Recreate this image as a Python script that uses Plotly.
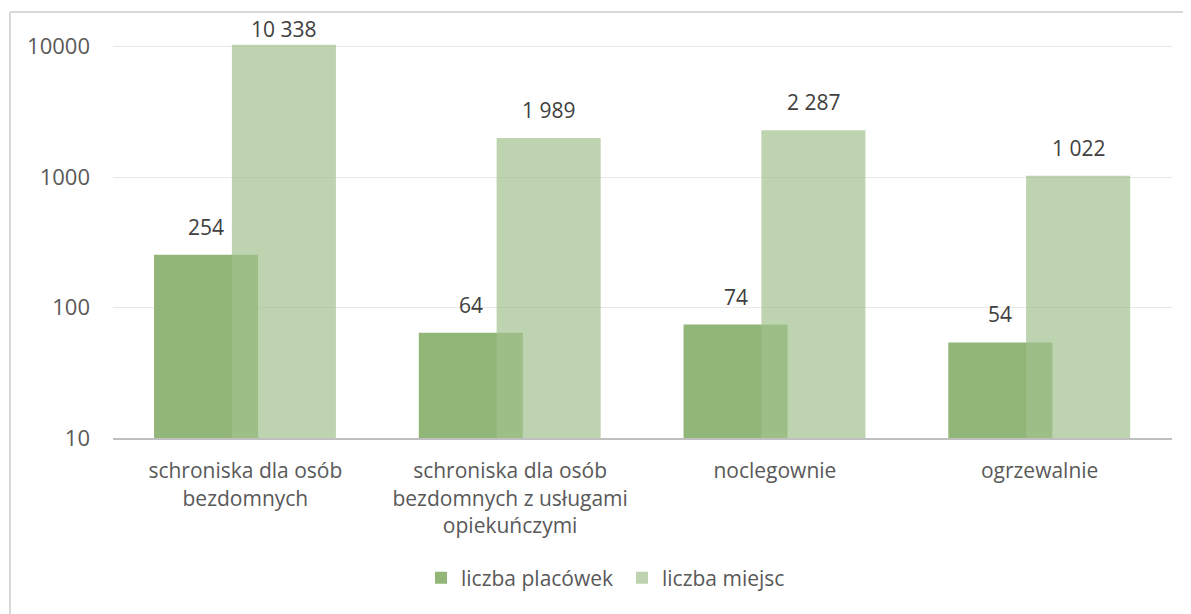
import plotly.graph_objects as go
import math

categories = [
    "schroniska dla osób<br>bezdomnych",
    "schroniska dla osób<br>bezdomnych z usługami<br>opiekuńczymi",
    "noclegownie",
    "ogrzewalnie",
]
placowki = [254, 64, 74, 54]
miejsca = [10338, 1989, 2287, 1022]
series_names = ["liczba placówek", "liczba miejsc"]
y_ticks = [10, 100, 1000, 10000]

def fmt(v):
    return f"{v:,}".replace(",", " ")

xs = list(range(len(categories)))
BW = 0.393
OFF_D = -0.345
OFF_L = -0.051
FONT = "Open Sans"

# page body has an 8px margin -> work in figure coordinates
W, H = 1183, 606
PX_L, PX_R, PX_T, PX_B = 105, 1164, 36, 430
pw, ph = PX_R - PX_L, PX_B - PX_T
Y_RANGE = [1, 4.02]

fig = go.Figure()
fig.add_trace(go.Bar(
    x=xs, y=placowki, name=series_names[0],
    width=BW, offset=OFF_D,
    marker=dict(color="#92b677", line=dict(width=0)),
    hoverinfo="y",
))
fig.add_trace(go.Bar(
    x=xs, y=miejsca, name=series_names[1],
    width=BW, offset=OFF_L,
    marker=dict(color="rgba(162,194,143,0.70)", line=dict(width=0)),
    hoverinfo="y",
))

def label_shift(v):
    # keep labels inside the chart area (like the original): cap the offset near the top
    bar_top_px = PX_T + (Y_RANGE[1] - math.log10(v)) * ph / (Y_RANGE[1] - Y_RANGE[0])
    return max(0, min(12, bar_top_px - PX_T - 0.7))

annotations = []
for i, (a, b) in enumerate(zip(placowki, miejsca)):
    for v, off in ((a, OFF_D), (b, OFF_L)):
        annotations.append(dict(x=i + off + BW / 2, y=math.log10(v), text=fmt(v),
                                xref="x", yref="y", showarrow=False, yanchor="bottom",
                                yshift=label_shift(v),
                                font=dict(size=21, color="#404040", family=FONT)))

bx = (2 - PX_L) / pw
by = (PX_B - 4) / ph

fig.update_layout(
    width=W, height=H,
    margin=dict(l=PX_L, r=W - PX_R, t=PX_T, b=H - PX_B, pad=0),
    paper_bgcolor="white", plot_bgcolor="white",
    barmode="overlay",
    font=dict(family=FONT, size=21, color="#595959"),
    showlegend=True,
    legend=dict(orientation="h", x=(413 - PX_L) / pw, xanchor="left",
                y=(PX_B - 570) / ph, yanchor="middle",
                entrywidth=156, entrywidthmode="pixels",
                font=dict(size=21, color="#595959"), itemclick=False),
    xaxis=dict(range=[-0.5, 3.5], tickmode="array", tickvals=xs, ticktext=categories,
               showgrid=False, showline=True, linecolor="#bfbfbf", linewidth=2,
               ticks="", ticklabelstandoff=13, fixedrange=True),
    yaxis=dict(type="log", range=Y_RANGE, tickmode="array", tickvals=y_ticks,
               ticktext=[str(t) for t in y_ticks],
               tickfont=dict(size=22),
               showgrid=True, gridcolor="#e8e8e8", gridwidth=1, zeroline=False,
               showline=False, ticks="", ticklabelstandoff=22, fixedrange=True),
    annotations=annotations,
    shapes=[
        dict(type="line", xref="paper", yref="paper", x0=bx, x1=bx, y0=by, y1=-0.6,
             line=dict(color="#d9d9d9", width=2)),
        dict(type="line", xref="paper", yref="paper", x0=bx, x1=1.2, y0=by, y1=by,
             line=dict(color="#d9d9d9", width=2)),
    ],
)

fig.write_html("out.html")
